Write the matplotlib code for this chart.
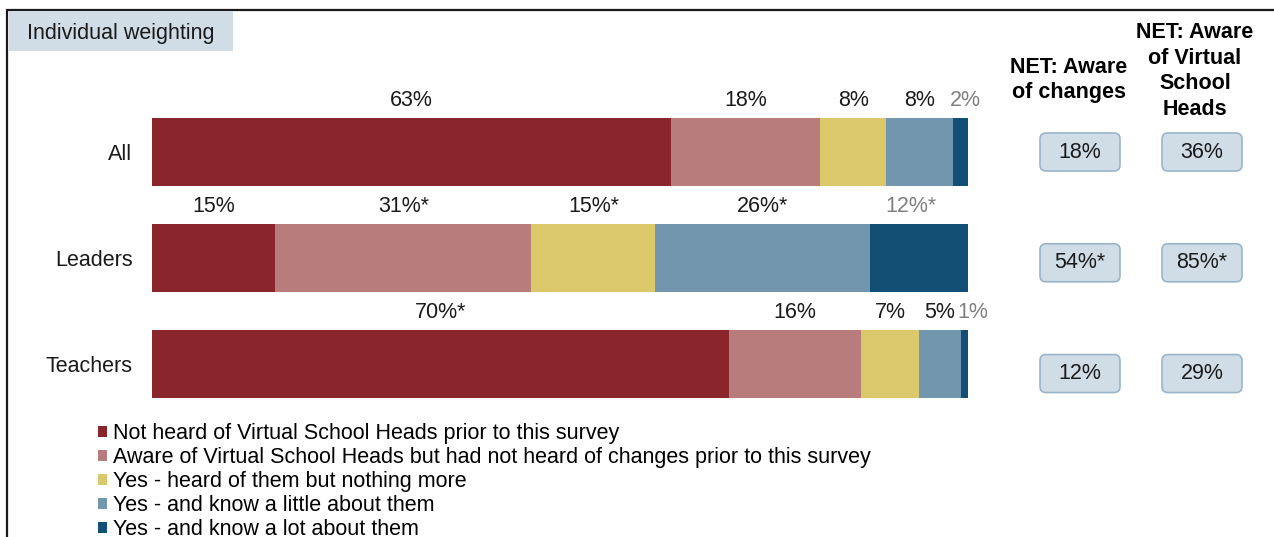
import matplotlib
matplotlib.use("Agg")
import matplotlib.pyplot as plt
from matplotlib.patches import FancyBboxPatch, Rectangle
import numpy as np

plt.rcParams['font.family'] = ['Liberation Sans', 'DejaVu Sans']

# chart data
groups = ['All', 'Leaders', 'Teachers']
series = ['Not heard of Virtual School Heads prior to this survey',
          'Aware of Virtual School Heads but had not heard of changes prior to this survey',
          'Yes - heard of them but nothing more',
          'Yes - and know a little about them',
          'Yes - and know a lot about them']
values = [[63.6, 18.3, 8.1, 8.2, 1.8],
          [15.1, 31.4, 15.2, 26.3, 12.0],
          [70.7, 16.2, 7.1, 5.1, 0.9]]
value_labels = [['63%', '18%', '8%', '8%', '2%'],
                ['15%', '31%*', '15%*', '26%*', '12%*'],
                ['70%*', '16%', '7%', '5%', '1%']]
net_headers = ['NET: Aware\nof changes', 'NET: Aware\nof Virtual\nSchool\nHeads']
net_changes = ['18%', '54%*', '12%']
net_aware = ['36%', '85%*', '29%']

palette = ['#8a252b', '#b87c7c', '#dbc86a', '#7296ae', '#134f74']
label_colors = ['#1a1a1a'] * 4 + ['#7f7f7f']
last_nudge = [5, -8, 8]  # px shift of the grey end labels, as in the source
box_face = '#d0dde6'
box_edge = '#9ab5c9'
fs = 15.5

W, H = 1274, 537
fig = plt.figure(figsize=(W / 100, H / 100), dpi=100)

def px(x0, y0, x1, y1):
    # pixel box -> figure rect
    return [x0 / W, 1 - y1 / H, (x1 - x0) / W, (y1 - y0) / H]

# outer frame
fig.patches.append(Rectangle((7 / W, -0.1), 2, 1 - 10 / H + 0.1, transform=fig.transFigure,
                             fill=False, edgecolor='#1a1a1a', linewidth=1.6))

# bars
ax = fig.add_axes(px(152, 80, 968, 410))
y = np.arange(len(groups))
bar_h = 0.65
top_px, bot_px = 80, 410
unit = 106.0
ax.set_ylim(2 + (bot_px - 364) / unit, -(152 - top_px) / unit)
ax.set_xlim(0, 100)

left = np.zeros(len(groups))
vals = np.array(values)
for j in range(len(series)):
    ax.barh(y, vals[:, j], left=left, height=bar_h, color=palette[j], label=series[j])
    for i in range(len(groups)):
        dx = last_nudge[i] * 0.72 if j == len(series) - 1 else 0
        ax.annotate(value_labels[i][j], (left[i] + vals[i, j] / 2, y[i] - bar_h / 2 - 0.165),
                    xytext=(dx, 0), textcoords='offset points',
                    ha='center', va='center', fontsize=fs, color=label_colors[j])
    left += vals[:, j]

ax.set_yticks(y)
ax.set_yticklabels(groups, fontsize=fs, color='#1a1a1a')
ax.tick_params(axis='y', length=0, pad=14)
ax.set_xticks([])
for s in ax.spines.values():
    s.set_visible(False)

# NET columns
ax2 = fig.add_axes(px(980, 80, 1274, 410))
ax2.set_xlim(980, 1274)
ax2.set_ylim(ax.get_ylim())
ax2.axis('off')
box_w, box_h = 80, 38 / unit
for cx, col in zip([1080, 1202], [net_changes, net_aware]):
    for i, txt in enumerate(col):
        cy = y[i] + 0.045 * i
        ax2.add_patch(FancyBboxPatch((cx - box_w / 2, cy - box_h / 2), box_w, box_h,
                                     boxstyle='round,pad=0,rounding_size=6',
                                     mutation_aspect=1 / unit,
                                     facecolor=box_face, edgecolor=box_edge, linewidth=1.2))
        ax2.text(cx, cy, txt, ha='center', va='center', fontsize=fs, color='#1a1a1a')

fig.text(1069 / W, 1 - 80 / H, net_headers[0], ha='center', va='center',
         fontsize=fs, fontweight='bold', linespacing=1.3)
fig.text(1195 / W, 1 - 71 / H, net_headers[1], ha='center', va='center',
         fontsize=fs, fontweight='bold', linespacing=1.3)

# weighting tag
fig.patches.append(Rectangle((9 / W, 1 - 51 / H), 224 / W, 40 / H, transform=fig.transFigure,
                             facecolor=box_face, edgecolor='none'))
fig.text(27 / W, 1 - 33 / H, 'Individual weighting', ha='left', va='center',
         fontsize=fs, color='#1a1a1a')

# legend
handles, labels = ax.get_legend_handles_labels()
fig.legend(handles, labels, loc='upper left', bbox_to_anchor=(98 / W, 1 - 423 / H),
           frameon=False, fontsize=fs, handlelength=0.4, handleheight=0.4,
           handletextpad=0.3, labelspacing=0.14, borderpad=0, borderaxespad=0)

fig.savefig('out.png', dpi=100)
